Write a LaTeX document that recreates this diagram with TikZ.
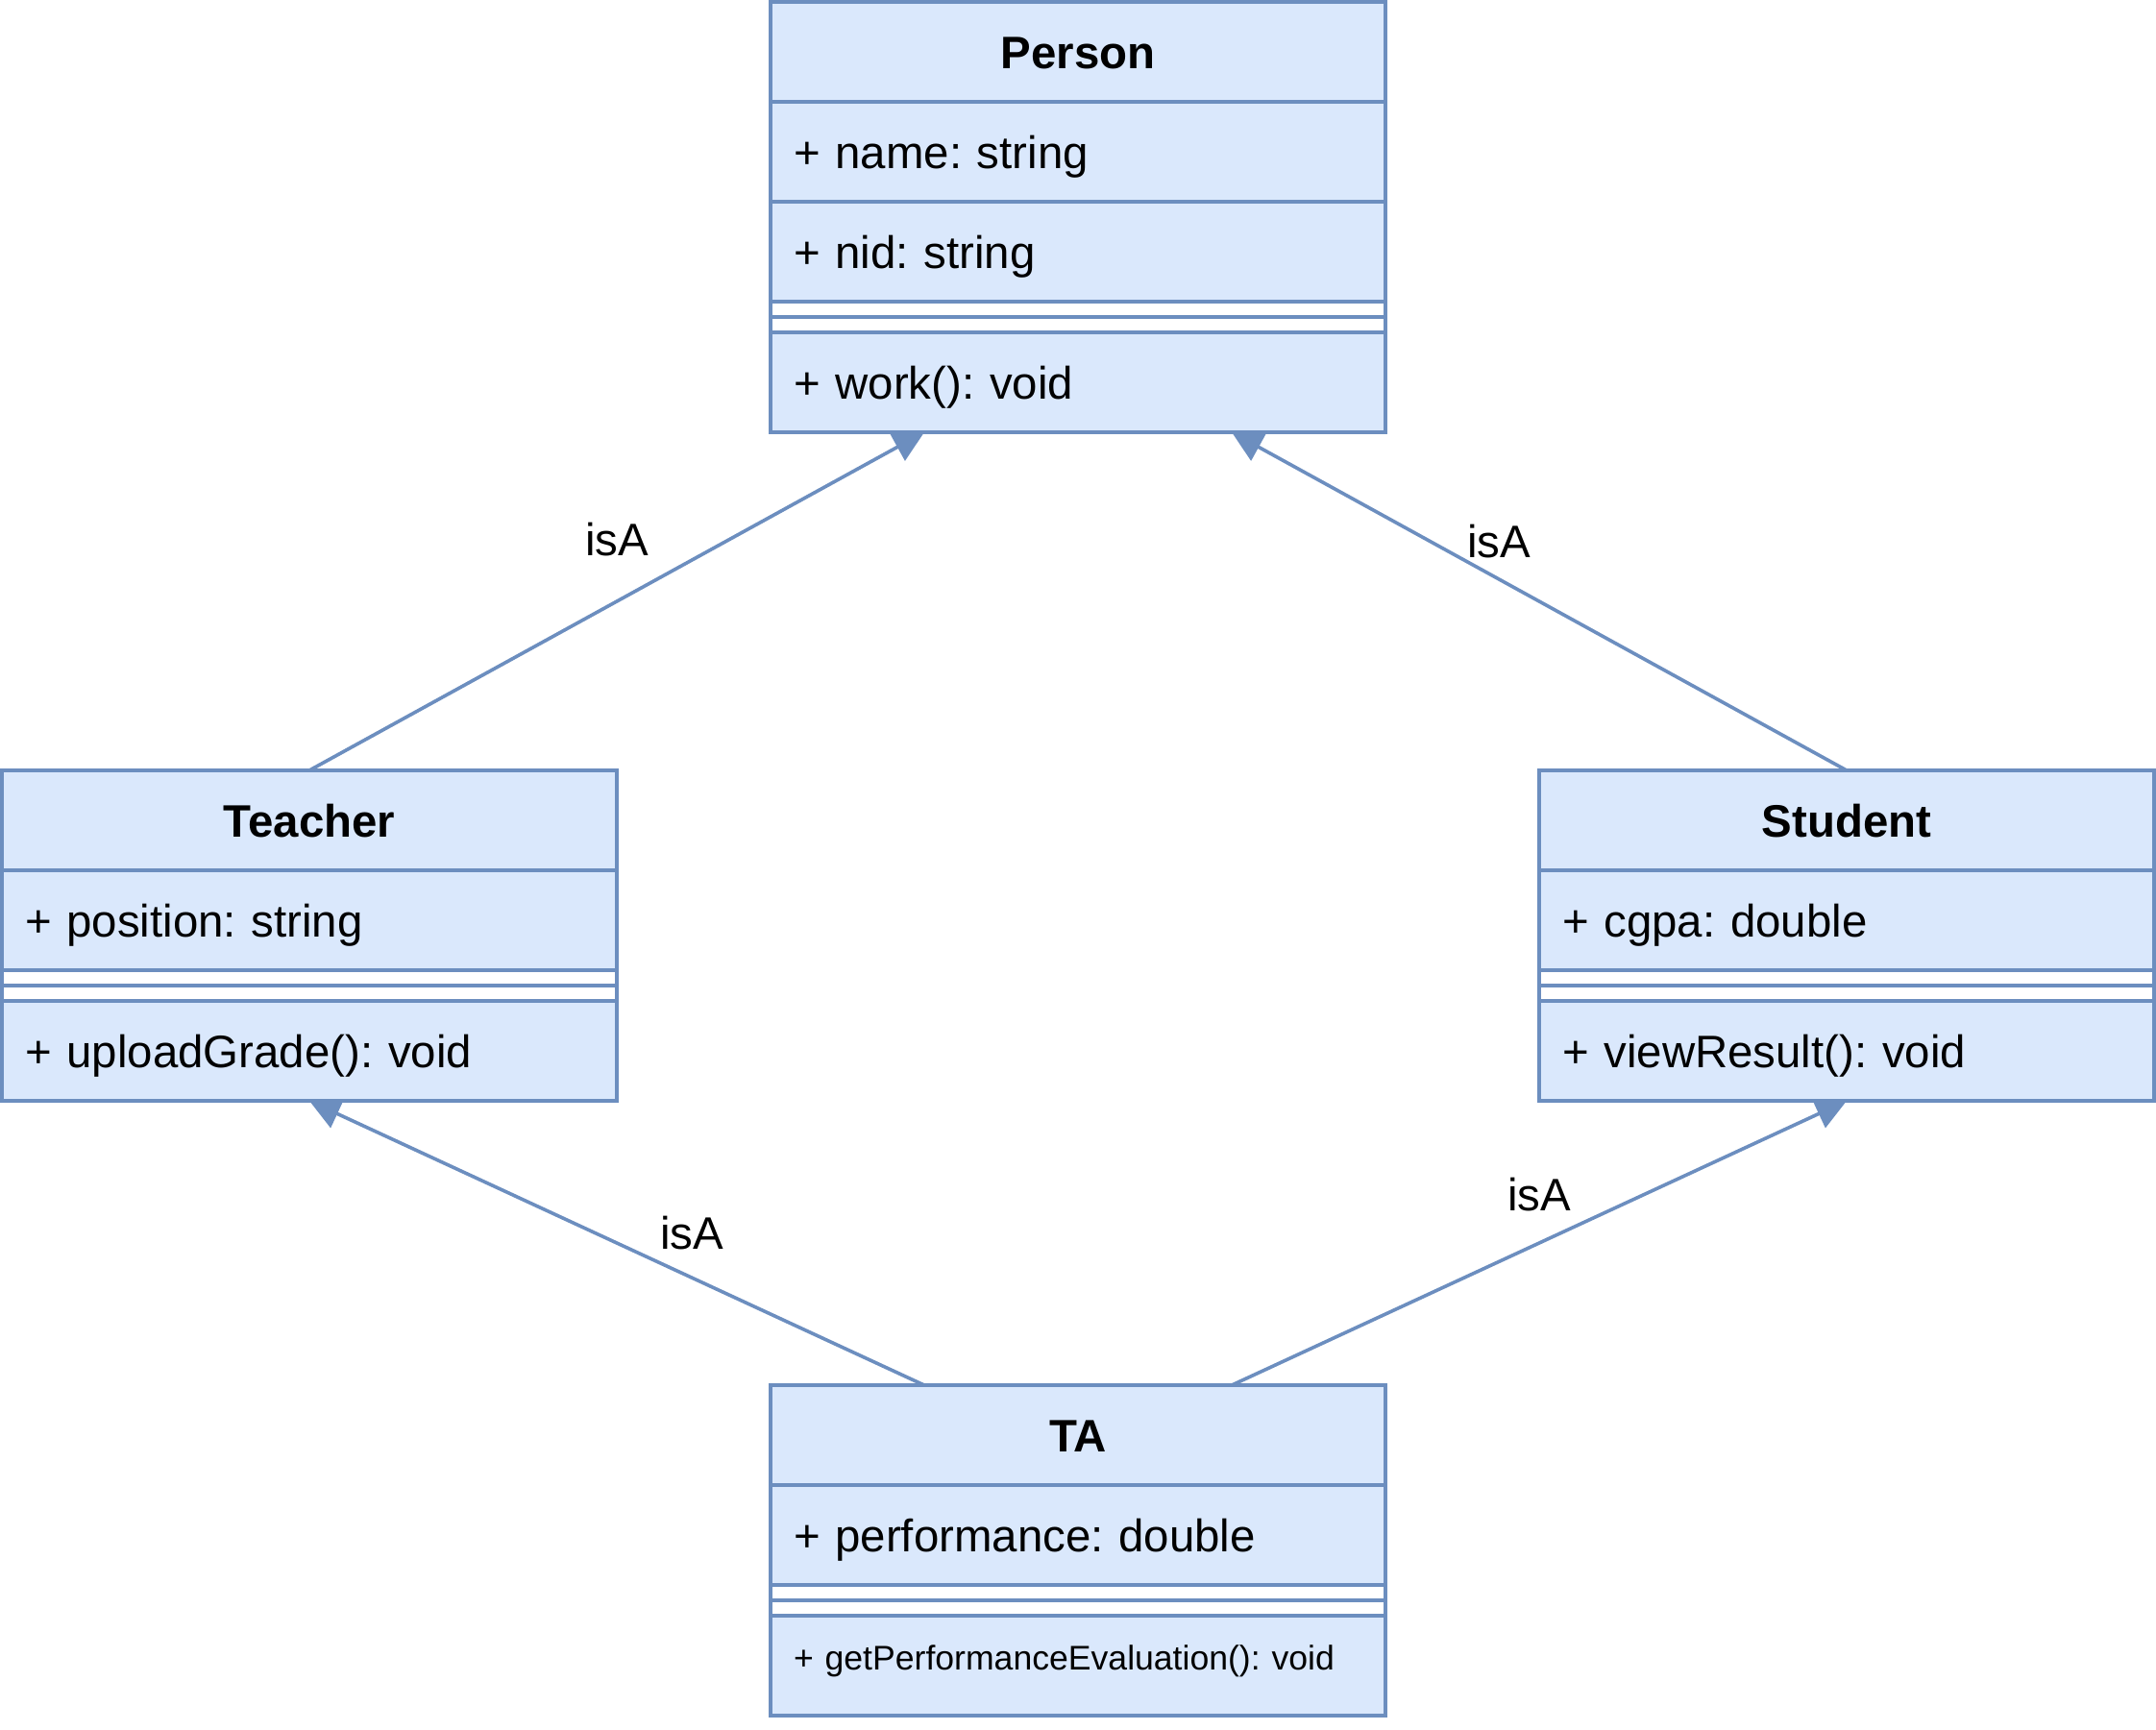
\documentclass[tikz,border=0pt]{standalone}
\usepackage{fontspec}
\setmainfont{Liberation Sans}
\usepackage{tikz}
\usetikzlibrary{positioning, arrows.meta, calc}
\definecolor{umlfill}{HTML}{DAE8FC}
\definecolor{umlline}{HTML}{6C8EBF}
\frenchspacing

\begin{document}
\begin{tikzpicture}[
    x=1pt, y=1pt,
    node distance=0pt,
    classhead/.style={
        rectangle, draw=umlline, fill=umlfill, line width=0.9pt,
        minimum width=160pt, minimum height=26pt,
        inner xsep=6pt, inner ysep=0pt, outer sep=0pt,
        text width=148pt, align=center,
        text height=11pt, text depth=2.5pt,
        font=\fontsize{11.85}{14}\selectfont\bfseries
    },
    field/.style={classhead, align=left, font=\fontsize{11.85}{14}\selectfont},
    smallfield/.style={field, font=\fontsize{8.9}{11}\selectfont,
        text height=7pt, text depth=4.8pt},
    sepbar/.style={
        rectangle, draw=umlline, fill=white, line width=0.9pt,
        minimum width=160pt, minimum height=8pt,
        inner sep=0pt, outer sep=0pt
    },
    sepline/.style={umlline, line width=0.9pt},
    isaflow/.style={-{Triangle[length=8pt, width=8pt]}, umlline, line width=0.9pt},
    isalabel/.style={font=\fontsize{11.85}{14}\selectfont, text=black, inner sep=0pt}
]
\useasboundingbox (-0.5,0.5) rectangle (560.5,-449.5);

% === Person ===
\node[classhead, anchor=north] (person) at (280,0) {Person};
\node[field, below=of person] (person-name) {+ name: string};
\node[field, below=of person-name] (person-nid) {+ nid: string};
\node[sepbar, below=of person-nid] (person-sep) {};
\node[field, below=of person-sep] (person-work) {+ work(): void};
\draw[sepline] (person-sep.west) -- (person-sep.east);

% === Teacher ===
\node[classhead, anchor=north] (teacher) at (80,-200) {Teacher};
\node[field, below=of teacher] (teacher-pos) {+ position: string};
\node[sepbar, below=of teacher-pos] (teacher-sep) {};
\node[field, below=of teacher-sep] (teacher-upload) {+ uploadGrade(): void};
\draw[sepline] (teacher-sep.west) -- (teacher-sep.east);

% === Student ===
\node[classhead, anchor=north] (student) at (480,-200) {Student};
\node[field, below=of student] (student-cgpa) {+ cgpa: double};
\node[sepbar, below=of student-cgpa] (student-sep) {};
\node[field, below=of student-sep] (student-view) {+ viewResult(): void};
\draw[sepline] (student-sep.west) -- (student-sep.east);

% === TA ===
\node[classhead, anchor=north] (ta) at (280,-360) {TA};
\node[field, below=of ta] (ta-perf) {+ performance: double};
\node[sepbar, below=of ta-perf] (ta-sep) {};
\node[smallfield, below=of ta-sep] (ta-eval) {+ getPerformanceEvaluation(): void};
\draw[sepline] (ta-sep.west) -- (ta-sep.east);

% === Generalisations ===
\draw[isaflow] (teacher.north) -- ($(person-work.south west)!0.25!(person-work.south east)$)
    node[isalabel, midway, yshift=16pt] {isA};
\draw[isaflow] (student.north) -- ($(person-work.south west)!0.75!(person-work.south east)$)
    node[isalabel, midway, xshift=-10.5pt, yshift=15.5pt] {isA};
\draw[isaflow] ($(ta.north west)!0.25!(ta.north east)$) -- (teacher-upload.south)
    node[isalabel, midway, xshift=19.5pt, yshift=2.5pt] {isA};
\draw[isaflow] ($(ta.north west)!0.75!(ta.north east)$) -- (student-view.south)
    node[isalabel, midway, yshift=12.5pt] {isA};

\end{tikzpicture}
\end{document}
